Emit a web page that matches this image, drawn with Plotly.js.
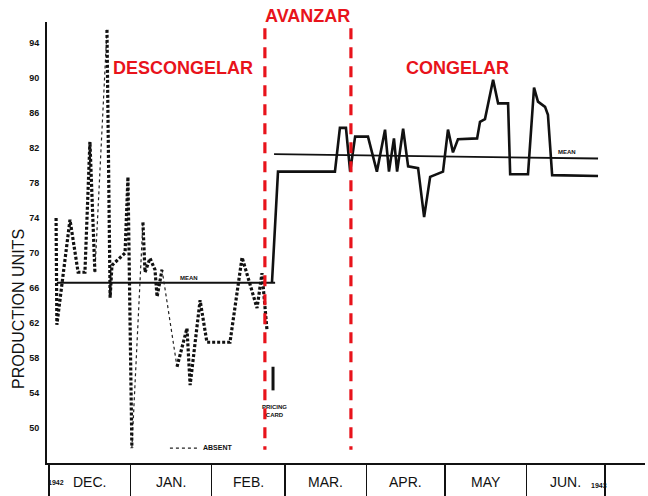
<!DOCTYPE html>
<html>
<head>
<meta charset="utf-8">
<script src="https://cdn.plot.ly/plotly-3.0.1.min.js"></script>
<style>html,body{margin:0;padding:0;background:#fff;}#chart{width:648px;height:496px;}</style>
</head>
<body>
<div id="chart"></div>
<script>
// ---- data (x = days since 1 Dec 1942) ----
const monthStarts = [0, 31, 62, 90, 121, 151, 182, 212];
const monthLabels = ['DEC.', 'JAN.', 'FEB.', 'MAR.', 'APR.', 'MAY', 'JUN.'];
const yTickVals = [50, 54, 58, 62, 66, 70, 74, 78, 82, 86, 90, 94];
const yTickText = ['50', '54', '58', '62', '66', '70', '74', '78', '82', '86', '90', '94'];

// thaw period (dashed, present)
const thawDays  = [2.7, 3.0, 8.0, 11.1, 13.7, 15.6, 17.5, null, 22.1, 23.3, 24.0, 29.0, 30.1, 31.6, null, 35.8, 36.6, 38.5, 40.4, 41.2, 43.1, null, 48.8, 52.6, 53.8, 57.6, 60.2, 69.0, 73.6, 79.3, 81.2, 83.1];
const thawUnits = [74.0, 61.8, 73.8, 67.8, 67.8, 82.7, 67.8, null, 95.5, 64.9, 68.6, 70.0, 78.7, 47.7, null, 73.5, 67.8, 69.4, 68.1, 65.0, 68.1, null, 57.0, 61.4, 54.9, 64.6, 59.8, 59.8, 69.5, 63.7, 67.7, 61.2];
// absent stretches (thin dotted)
const absentDays  = [17.5, 22.1, null, 31.6, 35.8, null, 43.1, 48.8];
const absentUnits = [67.8, 95.5, null, 47.7, 73.5, null, 68.1, 57.0];
const absentKeyDays = [46.1, 57.0];
const absentKeyUnits = [47.7, 47.7];
// pricing card
const pricingDays = [85.4, 85.4];
const pricingUnits = [57.0, 54.3];
// freeze period (solid)
const freezeDays  = [85.0, 87.3, 109.0, 110.9, 113.2, 114.8, 116.7, 121.6, 125.0, 128.1, 129.6, 131.5, 132.7, 135.0, 136.9, 140.7, 143.0, 145.3, 150.2, 152.1, 154.0, 155.9, 163.2, 164.3, 166.2, 169.3, 171.2, 175.0, 175.8, 182.6, 184.9, 186.4, 189.1, 190.2, 191.8, 209.3];
const freezeUnits = [66.6, 79.3, 79.3, 84.3, 84.3, 79.3, 83.3, 83.3, 79.3, 84.1, 79.3, 83.1, 79.3, 84.2, 79.9, 79.7, 74.1, 78.7, 79.3, 84.1, 81.5, 83.0, 83.1, 85.0, 85.3, 89.8, 87.1, 87.1, 79.0, 79.0, 88.9, 87.3, 86.7, 85.8, 78.9, 78.8];
// means
const thawMeanDays = [3.0, 86.2];
const thawMeanUnits = [66.6, 66.6];
const freezeMeanDays = [85.8, 209.3];
const freezeMeanUnits = [81.3, 80.8];
// phase boundaries
const phaseDays = [82.3, 115.1];
const phaseUnitsSpan = [95.7, 47.5];

const RED = '#e8131b';
const FONT = 'Liberation Sans, Arial, sans-serif';

const traces = [
  {x: thawMeanDays, y: thawMeanUnits, mode: 'lines', line: {color: '#111', width: 1.8}},
  {x: freezeMeanDays, y: freezeMeanUnits, mode: 'lines', line: {color: '#111', width: 1.8}},
  {x: absentDays, y: absentUnits, mode: 'lines', connectgaps: false, line: {color: '#222', width: 1.2, dash: 'dot'}},
  {x: absentKeyDays, y: absentKeyUnits, mode: 'lines', line: {color: '#222', width: 1.2, dash: 'dot'}},
  {x: thawDays, y: thawUnits, mode: 'lines', connectgaps: false, line: {color: '#111', width: 3.2, dash: '3px,2px'}},
  {x: pricingDays, y: pricingUnits, mode: 'lines', line: {color: '#111', width: 3}},
  {x: freezeDays, y: freezeUnits, mode: 'lines', line: {color: '#111', width: 2.6}},
];
phaseDays.forEach(d => traces.push({x: [d, d], y: phaseUnitsSpan, mode: 'lines', line: {color: RED, width: 3.2, dash: '11px,8px'}}));
traces.forEach(t => { t.hoverinfo = 'skip'; t.showlegend = false; t.cliponaxis = false; });

const annotations = [];
for (let i = 0; i < monthLabels.length; i++) {
  annotations.push({x: (monthStarts[i] + monthStarts[i + 1]) / 2, y: -0.042, xref: 'x', yref: 'paper',
    text: monthLabels[i], showarrow: false, font: {family: FONT, size: 14, color: '#111'}, xanchor: 'center', yanchor: 'middle'});
}
annotations.push(
  {x: 2.8, y: -0.045, xref: 'x', yref: 'paper', text: '<b>1942</b>', showarrow: false, font: {family: FONT, size: 7, color: '#111'}, xanchor: 'center', yanchor: 'middle'},
  {x: 209.5, y: -0.05, xref: 'x', yref: 'paper', text: '<b>1943</b>', showarrow: false, font: {family: FONT, size: 7, color: '#111'}, xanchor: 'center', yanchor: 'middle'},
  {x: 51.1, y: 91.1, xref: 'x', yref: 'y', text: '<b>DESCONGELAR</b>', showarrow: false, font: {family: FONT, size: 18, color: RED}},
  {x: 98.7, y: 1.0136, xref: 'x', yref: 'paper', text: '<b>AVANZAR</b>', showarrow: false, font: {family: FONT, size: 18, color: RED}, yanchor: 'middle'},
  {x: 155.9, y: 91.1, xref: 'x', yref: 'y', text: '<b>CONGELAR</b>', showarrow: false, font: {family: FONT, size: 18, color: RED}},
  {x: 53.5, y: 67.1, xref: 'x', yref: 'y', text: '<b>MEAN</b>', showarrow: false, font: {family: FONT, size: 6, color: '#111'}},
  {x: 197.5, y: 81.6, xref: 'x', yref: 'y', text: '<b>MEAN</b>', showarrow: false, font: {family: FONT, size: 6, color: '#111'}},
  {x: 64.4, y: 47.8, xref: 'x', yref: 'y', text: '<b>ABSENT</b>', showarrow: false, font: {family: FONT, size: 7, color: '#111'}},
  {x: 86.0, y: 52.0, xref: 'x', yref: 'y', text: '<b>PRICING<br>CARD</b>', showarrow: false, font: {family: FONT, size: 6, color: '#111'}},
  {x: -0.048, y: 0.35, xref: 'paper', yref: 'paper', text: 'PRODUCTION UNITS', textangle: -90, showarrow: false, font: {family: FONT, size: 16, color: '#111'}, xanchor: 'center', yanchor: 'middle'}
);

const layout = {
  width: 648, height: 496,
  margin: {l: 47, r: 3, t: 22, b: 33},
  paper_bgcolor: '#fff', plot_bgcolor: '#fff',
  showlegend: false,
  xaxis: {range: [-0.76, 227.2], tickvals: monthStarts, ticks: 'outside', ticklen: 33, tickwidth: 1.5, tickcolor: '#111',
    showticklabels: false, showgrid: false, zeroline: false, showline: true, linecolor: '#111', linewidth: 2},
  yaxis: {range: [46, 96.4], tickvals: yTickVals, ticktext: yTickText, ticks: '', showgrid: false, zeroline: false,
    showline: true, linecolor: '#111', linewidth: 2, ticklabelstandoff: 4,
    tickfont: {family: FONT, size: 9, color: '#111', weight: 'bold'}},
  annotations: annotations
};

Plotly.newPlot('chart', traces, layout, {staticPlot: true, displayModeBar: false});
</script>
</body>
</html>
